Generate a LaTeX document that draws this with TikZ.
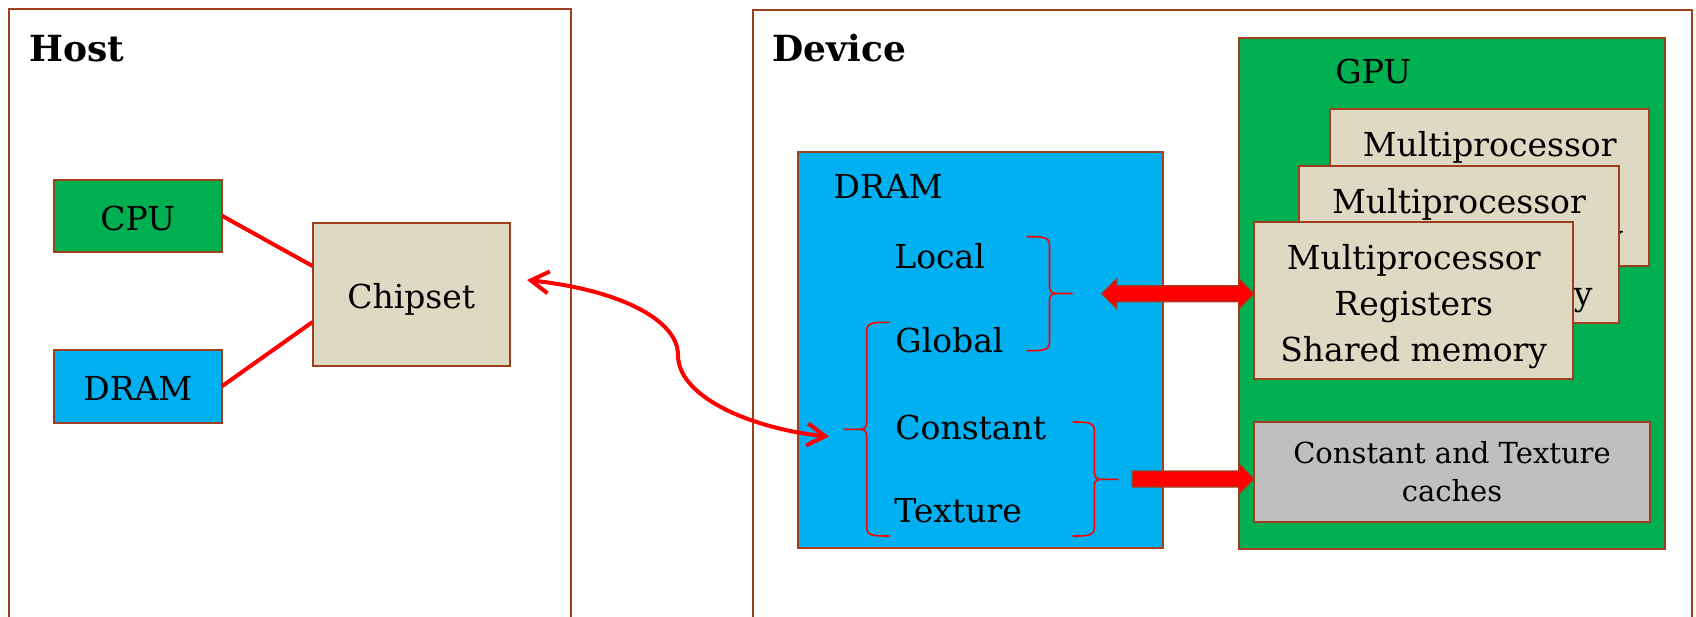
\documentclass[tikz,border=0pt]{standalone}
\usepackage{fontspec}
\setmainfont{DejaVu Serif}
\usetikzlibrary{arrows.meta,calc}

\definecolor{edge}{RGB}{160,62,32}
\definecolor{linkred}{RGB}{255,0,0}
\definecolor{chipgreen}{RGB}{0,176,80}
\definecolor{memblue}{RGB}{0,176,240}
\definecolor{tan}{RGB}{221,217,195}
\definecolor{cachegray}{RGB}{191,191,191}

% curly bracket: end x, spine x, tip x, top y, tip y, bottom y, direction (+1 or -1)
\newcommand\membrace[7]{%
  \draw[brace] (#1,#4) .. controls ({#2-8*(#7)},#4) and (#2,#4) .. (#2,{#4+8})
    -- (#2,{#5-7}) .. controls (#2,{#5-1}) and ({#2+3*(#7)},#5) .. ({#2+8*(#7)},#5) -- (#3,#5)
    ({#2+8*(#7)},#5) .. controls ({#2+3*(#7)},#5) and (#2,{#5+1}) .. (#2,{#5+7})
    -- (#2,{#6-8}) .. controls (#2,#6) and ({#2-8*(#7)},#6) .. (#1,#6);}

% contents of one streaming multiprocessor card
\newcommand\mptext{\rule{0pt}{18.5pt}Multiprocessor\\Registers\\Shared memory}

\begin{document}
\begin{tikzpicture}[x=0.5pt,y=-0.5pt,
  frame/.style={draw=edge, line width=1pt, fill=white, anchor=north west,
    inner sep=0pt, outer sep=0pt},
  box/.style={draw=edge, line width=1pt, anchor=north west, inner sep=0pt,
    outer sep=0pt, align=center, font=\fontsize{16.5}{23}\selectfont},
  oneline/.style={text height=14.4pt, text depth=0pt},
  mpcard/.style={box, fill=tan, minimum width=159.7pt, minimum height=78.5pt},
  title/.style={font=\bfseries\fontsize{18}{22}\selectfont, anchor=base west, inner sep=0pt},
  memlabel/.style={font=\fontsize{16.5}{20}\selectfont, anchor=base west, inner sep=0pt},
  link/.style={draw=linkred, line width=2pt},
  brace/.style={draw=linkred, line width=0.8pt},
  blockarrow/.style={fill=linkred, draw=edge, line width=0.6pt, line join=miter},
  transfer/.style={{Straight Barb[length=9pt, width=11pt]}-{Straight Barb[length=9pt, width=11pt]}},
]
\clip (0,0) rectangle (1696,616);
\fill[white] (0,0) rectangle (1696,616);

% host side
\node[frame, minimum width=281pt, minimum height=330pt] (host) at (8.5,8.5) {};
\node[title] (hostlabel) at (28.7,61.7) {Host};
\node[box, oneline, fill=chipgreen, minimum width=84.2pt, minimum height=35.75pt] (cpu) at (53.6,180) {CPU};
\node[box, oneline, fill=memblue, minimum width=84.2pt, minimum height=36.25pt] (hostdram) at (53.6,350) {DRAM};
\node[box, oneline, fill=tan, minimum width=98.75pt, minimum height=71.5pt] (chipset) at (312.5,222.5) {Chipset};

% device side
\node[frame, minimum width=469.5pt, minimum height=330pt] (device) at (753,9.5) {};
\node[title] (devlabel) at (772,61.7) {Device};

\node[box, fill=memblue, minimum width=182.5pt, minimum height=198.3pt] (devdram) at (798.3,151.7) {};
\node[memlabel] (dramlabel) at (833.3,198.3) {DRAM};
\node[memlabel] (local) at (894,268.3) {Local};
\node[memlabel] (global) at (895,352.7) {Global};
\node[memlabel] (constant) at (895,439.3) {Constant};
\node[memlabel] (texture) at (894,522.7) {Texture};

\node[box, fill=chipgreen, minimum width=212.75pt, minimum height=255.75pt] (gpu) at (1239,37.5) {};
\node[memlabel] (gpulabel) at (1335,83.3) {GPU};

\node[mpcard] (mpback) at (1330,109) {\mptext};
\node[mpcard] (mpmid) at (1299.3,165.7) {\mptext};
\node[mpcard] (mpfront) at (1254,222.3) {\mptext};
\node[box, fill=cachegray, minimum width=198pt, minimum height=49.7pt,
  font=\fontsize{14.5}{18.85}\selectfont] (cache) at (1254,422.3)
  {Constant and Texture\\caches};

% brackets grouping the memory spaces
\membrace{1026.7}{1049.5}{1072.5}{236.7}{293.5}{350.7}{1}
\membrace{889.3}{866.7}{843.3}{322.3}{429.3}{536}{-1}
\membrace{1072.7}{1094.3}{1118.3}{422}{479.3}{536}{1}

% host connections
\draw[link] (cpu.east) -- ([yshift=14pt]chipset.west);
\draw[link] (hostdram.east) -- ([yshift=-14pt]chipset.west);

% host <-> device transfer
\coordinate (hostport) at ([shift={(8.5pt,7pt)}]chipset.east);
\coordinate (devport) at (829,436.5);
\draw[link, transfer] (hostport) .. controls (620,290) and (678,320) .. (678,355)
  .. controls (678,400) and (760,430) .. (devport);

% wide arrows to the multiprocessors and the caches
\coordinate (localport) at (1101.7,293.7);
\coordinate (mpin) at ([yshift=3.5pt]mpfront.west);
\draw[blockarrow] (localport) -- ++(15,-15) -- ++(0,7) -- ($(mpin)+(-15,-8)$) -- ++(0,-7)
  -- (mpin) -- ++(-15,15) -- ++(0,-7) -- ($(localport)+(15,8)$) -- ++(0,7) -- cycle;

\coordinate (cacheport) at (1132.3,479);
\coordinate (cachein) at ([yshift=-3.5pt]cache.west);
\draw[blockarrow] ($(cacheport)+(0,-8)$) -- ($(cachein)+(-15,-8)$) -- ++(0,-7) -- (cachein)
  -- ++(-15,15) -- ++(0,-7) -- ($(cacheport)+(0,8)$) -- cycle;
\end{tikzpicture}
\end{document}
